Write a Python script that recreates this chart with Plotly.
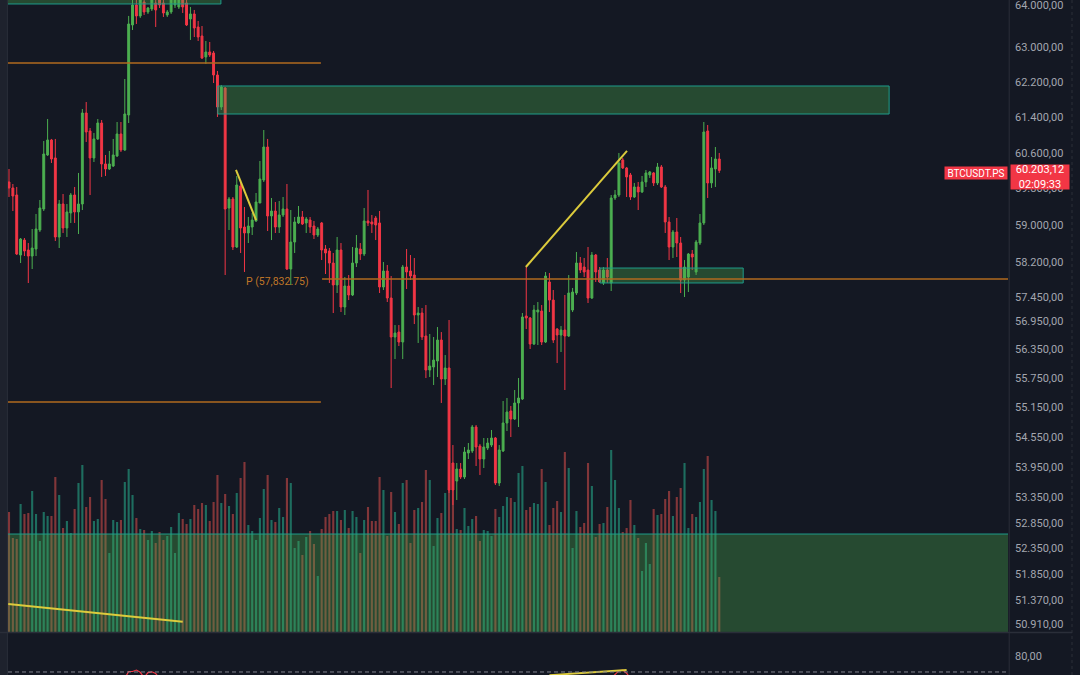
import math
import plotly.graph_objects as go

# ---------------- data (BTCUSDT.PS candles) ----------------
opens = [59947, 59814, 59659, 58350, 58674, 58458, 58328, 58480, 58892, 59351,
         60548, 60885, 60481, 58740, 59461, 58936, 59264, 59659, 59286, 59461,
         61495, 61088, 60481, 60908, 61268, 60347, 60235, 60302, 60526, 61020,
         60660, 61450, 63529, 64000, 63741, 64071, 63835, 63906, 64047, 64166,
         64047, 63764, 63835, 64000, 63953, 64118, 64047, 63670, 63788, 63482,
         63271, 62782, 62898, 62874, 62365, 61632, 62066, 59373, 59571, 58523,
         59858, 58957, 58827, 58957, 59089, 59483, 59991, 60727, 59198, 59307,
         58957, 59220, 59351, 58049, 58631, 59045, 59176, 59045, 59110, 58979,
         58783, 59045, 58480, 58436, 58178, 57707, 58458, 57239, 57685, 57494,
         58178, 58480, 58372, 59089, 59067, 59154, 59045, 57664, 58006, 57430,
         56608, 56712, 56503, 58092, 58006, 57920, 57070, 57112, 56629, 55921,
         55984, 56108, 56545, 55736, 55963, 54032, 53673, 53912, 53753, 54232,
         54272, 54756, 54372, 54112, 54332, 54392, 54534, 53634, 54272, 54837,
         55081, 54918, 55244, 55325, 57049, 57007, 56462, 57133, 57154, 56503,
         57771, 57387, 56775, 56650, 56754, 56629, 57176, 57536, 58178, 58092,
         58027, 57430, 58350, 58027, 57749, 58027, 57749, 59593, 59659, 60436,
         60258, 60102, 59615, 59836, 59726, 59947, 60102, 60147, 59925, 60280,
         59836, 59067, 58523, 58849, 58609, 57813, 57877, 58372, 57985, 58609,
         59045, 61088, 59925, 60235, 60458]
highs = [60235, 59902, 59836, 58718, 58718, 58609, 58914, 59242, 59549, 60862,
         61359, 60908, 60908, 59549, 59681, 59461, 59703, 59836, 60147, 61586,
         61745, 61155, 61043, 61359, 61336, 60548, 60638, 60908, 61291, 61291,
         62273, 63741, 64166, 64189, 64237, 64213, 63953, 64237, 64189, 64237,
         64166, 63882, 64213, 64189, 64213, 64189, 64118, 63953, 63882, 63623,
         63505, 63154, 63131, 62921, 62458, 62135, 62089, 59615, 59615, 60080,
         59991, 59395, 59176, 59264, 59703, 60414, 61110, 60908, 59593, 59505,
         59527, 59615, 59902, 59329, 59176, 59417, 59307, 59176, 59176, 59089,
         58957, 59067, 58566, 58501, 58393, 58740, 58609, 57877, 57920, 58523,
         58783, 58609, 59373, 59770, 59220, 59198, 59307, 58199, 58135, 57899,
         56859, 56859, 58135, 58480, 58350, 58285, 57239, 57218, 57281, 56671,
         56608, 56817, 56712, 56232, 56965, 54392, 54032, 54032, 54352, 54433,
         54796, 54796, 54412, 54534, 54534, 54695, 54554, 54392, 55285, 55346,
         55183, 55510, 55756, 57112, 58092, 57028, 57281, 57345, 57281, 57985,
         57963, 57600, 56796, 56838, 57494, 57920, 57643, 58415, 58307, 58285,
         58523, 58415, 58372, 58092, 58092, 58285, 59659, 59770, 60593, 60481,
         60280, 60147, 59925, 59947, 60080, 60213, 60191, 60169, 60369, 60324,
         59880, 59176, 58892, 59154, 58740, 58242, 58393, 58458, 58674, 59242,
         61291, 61223, 60503, 60727, 60593]
lows = [59615, 59307, 58350, 58178, 58328, 57749, 58049, 58328, 58849, 59307,
        60526, 60369, 58653, 58501, 58827, 58740, 59045, 59045, 58805, 59329,
        60840, 59659, 60391, 60885, 60058, 60080, 60213, 60280, 60503, 60615,
        60638, 61268, 63411, 63552, 63694, 63764, 63788, 63858, 63482, 63929,
        63717, 63717, 63788, 63929, 63906, 63811, 63505, 63178, 63247, 63154,
        62735, 62619, 62782, 62181, 61405, 61564, 57920, 58892, 58458, 58501,
        58393, 57985, 58609, 58783, 59067, 59483, 59947, 58870, 58674, 58827,
        58827, 59176, 58027, 57707, 58393, 59023, 59001, 58827, 58827, 58696,
        58740, 58242, 57942, 57749, 57112, 57536, 57133, 57070, 57387, 57472,
        58092, 58242, 58328, 58979, 58827, 58674, 57536, 57600, 57345, 55551,
        56149, 56420, 56149, 57621, 57813, 56880, 56483, 56545, 55756, 55777,
        55612, 55777, 55244, 55612, 53436, 53200, 53298, 53713, 53713, 54112,
        54232, 53972, 53793, 53932, 54292, 54352, 53594, 53574, 54252, 54675,
        54554, 54898, 54756, 55305, 56775, 56357, 56441, 56441, 56441, 56483,
        57133, 56483, 56066, 56295, 55510, 56608, 57133, 57494, 57963, 57877,
        57324, 57409, 57771, 57749, 57707, 57749, 57579, 59549, 59615, 60235,
        59615, 59549, 59593, 59329, 59703, 59836, 60036, 59858, 59880, 59814,
        58827, 58242, 58285, 58307, 57536, 57451, 57557, 58027, 57920, 58566,
        59001, 59593, 59814, 59836, 60147]
closes = [59814, 59637, 58372, 58696, 58436, 58328, 58501, 58914, 59373, 60570,
          60885, 60458, 58740, 59461, 58936, 59286, 59659, 59286, 59461, 61495,
          61065, 60481, 60908, 61268, 60347, 60235, 60347, 60548, 61020, 60660,
          61473, 63552, 64000, 63741, 64142, 63835, 63929, 64142, 63882, 64000,
          63811, 63835, 64118, 64118, 64142, 63953, 63529, 63788, 63458, 63247,
          62758, 62898, 62828, 62365, 61632, 62089, 59351, 59571, 58523, 59880,
          58936, 58827, 58979, 59110, 59505, 60013, 60727, 59198, 59307, 58957,
          59220, 59351, 58049, 58631, 59067, 59176, 59023, 59132, 58957, 58783,
          58914, 58458, 58393, 58178, 57707, 58458, 57239, 57685, 57494, 58178,
          58501, 58372, 59089, 59045, 59023, 59001, 57664, 58006, 57430, 56608,
          56691, 56503, 58092, 57985, 57899, 57070, 57112, 56608, 55921, 56004,
          56128, 56545, 55736, 55963, 53495, 53495, 53912, 53753, 54252, 54292,
          54756, 54352, 54112, 54352, 54433, 54534, 53634, 54292, 54837, 55060,
          54918, 55244, 55346, 57028, 57007, 56462, 57176, 57176, 56503, 57899,
          57387, 56545, 56650, 56754, 56629, 57536, 57557, 58178, 58027, 57985,
          57430, 58350, 57985, 57771, 58027, 57877, 59593, 59659, 60369, 60258,
          60058, 59615, 59836, 59726, 59947, 60147, 60169, 59925, 60280, 59836,
          59067, 58523, 58849, 58609, 57813, 58092, 58372, 58307, 58631, 59045,
          61065, 59925, 60258, 60458, 60203.12]
volumes = [1200, 940, 930, 1280, 1180, 1190, 1410, 1180, 910, 1200,
           1160, 1160, 1550, 1370, 1040, 1110, 990, 1230, 1490, 1670,
           1250, 1350, 1110, 1130, 1520, 1330, 790, 1120, 1100, 1120,
           1500, 1630, 1370, 1140, 1030, 1020, 920, 1010, 890, 1000,
           920, 960, 1050, 790, 1190, 1130, 1080, 1130, 1270, 1230,
           1290, 1270, 1110, 1300, 1570, 1290, 1380, 1260, 1180, 1390,
           1540, 1700, 1070, 1010, 920, 1140, 1430, 1570, 1120, 1100,
           1240, 1150, 1540, 1490, 840, 910, 770, 950, 1010, 880,
           560, 1030, 1150, 1180, 1210, 1210, 1120, 1220, 1040, 1210,
           1150, 790, 1120, 1250, 1110, 1110, 1550, 1420, 960, 1400,
           1200, 1080, 1490, 1520, 890, 1220, 1240, 1300, 1620, 1520,
           860, 1140, 1190, 1390, 1740, 1620, 1030, 1020, 1240, 1060,
           1130, 1160, 910, 1020, 1010, 960, 1230, 1150, 1260, 1350,
           1340, 1300, 1590, 1660, 1220, 1250, 1290, 1280, 1630, 1500,
           1070, 1240, 1310, 1200, 1800, 1640, 840, 1210, 1050, 1090,
           1690, 1460, 950, 1080, 1090, 1250, 1820, 1520, 1240, 1000,
           1040, 1320, 1070, 940, 610, 890, 680, 1230, 1170, 1180,
           1330, 1410, 1160, 1350, 1440, 1690, 1040, 1180, 1150, 1300,
           1630, 1760, 1320, 1210, 550]
bars = list(range(len(closes)))

# RSI pane (only the part that reaches into the visible strip)
rsi_bars = [30, 31, 32, 33, 34, 35, 36, 37, 38, 39, None, 156, 157, 158, 159, 160, 161]
rsi_vals = [66.0, 70.3, 70.3, 71.2, 69.8, 66.5, 69.6, 70.1, 69.0, 66.0, None, 66.0, 68.5, 70.8, 71.2, 69.2, 66.0]
rsi_band = 70
rsi_trend_bars = [140, 160]
rsi_trend_vals = [68.0, 71.25]

# axis ticks
price_ticks = [64000, 63000, 62200, 61400, 60600, 59800, 59000, 58200, 57450, 56950,
               56350, 55750, 55150, 54550, 53950, 53350, 52850, 52350, 51850, 51370, 50910]
rsi_ticks = [80]

# drawings (bar index, price)
zones = [  # [bar_from, bar_to, price_low, price_high]
    [-3, 54.9, 64024, 64600],
    [54.1, 228.0, 61472, 62112],
    [153.1, 190.2, 57750, 58070],
    [-3, 300, 49000, 52632],
]
levels = [  # [bar_from, bar_to, price]
    [-3, 80.8, 62642],
    [-3, 80.8, 55264],
    [81.1, 300, 57832.75],
]
trend_lines = [  # [bar_a, price_a, bar_b, price_b]
    [58.8, 60213, 64.0, 59110],
    [133.9, 58092, 160.1, 60638],
    [-0.2, 51288, 45.0, 50953],
]
pivot_price = 57832.75
pivot_bar = 78.3
last_price = 60203.12
symbol = "BTCUSDT.PS"
countdown = "02:09:33"

# ---------------- style ----------------
BG = "#141823"
UP = "#4caf50"
DOWN = "#f23645"
VOL_UP = "rgba(38,170,140,0.58)"
VOL_DOWN = "rgba(239,83,80,0.5)"
ZONE_FILL = "rgba(76,175,80,0.33)"
ZONE_LINE = "#1e9c8a"
ORANGE = "#b06a1f"
YELLOW = "#dccb3c"
AXIS_TXT = "#a3a6af"
SEP = "#2a2e39"
FONT = "Roboto"


def eu(v):
    s = f"{v:,.2f}"
    return s.replace(",", "_").replace(".", ",").replace("_", ".")


vol_colors = [VOL_UP if c >= o else VOL_DOWN for o, c in zip(opens, closes)]

fig = go.Figure()
fig.add_trace(go.Bar(x=bars, y=volumes, marker_color=vol_colors, marker_line_width=0,
                     width=0.55, yaxis="y", hoverinfo="skip"))
fig.add_trace(go.Candlestick(
    x=bars, open=opens, high=highs, low=lows, close=closes, yaxis="y2",
    increasing=dict(line=dict(color=UP, width=1), fillcolor=UP),
    decreasing=dict(line=dict(color=DOWN, width=1), fillcolor=DOWN),
    whiskerwidth=0, hoverinfo="skip"))

for x0, x1, p0, p1 in zones:
    fig.add_trace(go.Scatter(x=[x0, x1, x1, x0, x0], y=[p0, p0, p1, p1, p0], yaxis="y2",
                             mode="lines", fill="toself", fillcolor=ZONE_FILL,
                             line=dict(color=ZONE_LINE, width=1), hoverinfo="skip"))
for x0, x1, p in levels:
    fig.add_trace(go.Scatter(x=[x0, x1], y=[p, p], yaxis="y2", mode="lines",
                             line=dict(color=ORANGE, width=1.5), hoverinfo="skip"))
for xa, pa, xb, pb in trend_lines:
    fig.add_trace(go.Scatter(x=[xa, xb], y=[pa, pb], yaxis="y2", mode="lines",
                             line=dict(color=YELLOW, width=2), hoverinfo="skip"))

fig.add_trace(go.Scatter(x=rsi_bars, y=rsi_vals, yaxis="y3", mode="lines",
                         line=dict(color=DOWN, width=1.2), connectgaps=False, hoverinfo="skip"))
fig.add_trace(go.Scatter(x=rsi_trend_bars, y=rsi_trend_vals, yaxis="y3", mode="lines",
                         line=dict(color=YELLOW, width=2), hoverinfo="skip"))

main_bottom = 43 / 675
rsi_top = 42 / 675

shapes = [
    # left toolbar edge
    dict(type="rect", xref="paper", yref="paper", x0=-0.008, x1=-0.0006, y0=0, y1=1,
         fillcolor="#1e222d", line=dict(width=0), layer="above"),
    dict(type="line", xref="paper", yref="paper", x0=-0.0006, x1=-0.0006, y0=0, y1=1,
         line=dict(color=SEP, width=1), layer="above"),
    # price scale separators
    dict(type="line", xref="paper", yref="paper", x0=1.0012, x1=1.0012, y0=0, y1=1,
         line=dict(color=SEP, width=1), layer="above"),
    dict(type="line", xref="paper", yref="paper", x0=1.064, x1=1.064, y0=0, y1=1,
         line=dict(color=SEP, width=1, dash="3px,3px"), layer="above"),
    # pane separator
    dict(type="line", xref="paper", yref="paper", x0=-0.008, x1=1.064,
         y0=(main_bottom + rsi_top) / 2, y1=(main_bottom + rsi_top) / 2,
         line=dict(color=SEP, width=1.5), layer="above"),
    # RSI band
    dict(type="line", xref="paper", yref="y3", x0=0, x1=1, y0=rsi_band, y1=rsi_band,
         line=dict(color="#80838e", width=1, dash="4px,3px"), layer="above"),
]

annotations = [
    dict(xref="x", yref="y2", x=pivot_bar, y=math.log10(pivot_price), xanchor="right",
         yanchor="middle", yshift=-2, showarrow=False, text=f"P ({pivot_price:,.2f})",
         font=dict(family=FONT, size=10.5, color="rgba(214,130,40,0.9)")),
    dict(xref="paper", yref="y2", x=1.0, y=math.log10(last_price), xanchor="right",
         yanchor="middle", yshift=-3, showarrow=False, text=symbol, width=62, height=12,
         bgcolor=DOWN, borderpad=0, font=dict(family=FONT, size=10, color="#ffffff")),
    dict(xref="paper", yref="y2", x=1.002, y=math.log10(last_price), xanchor="left",
         yanchor="middle", yshift=-7, showarrow=False,
         text=f"{eu(last_price)}<br>{countdown}", width=58, height=24,
         bgcolor=DOWN, borderpad=0, font=dict(family=FONT, size=11, color="#ffffff")),
]

fig.update_layout(
    width=1080, height=675,
    margin=dict(l=8, r=72, t=0, b=0),
    paper_bgcolor=BG, plot_bgcolor=BG,
    showlegend=False,
    hovermode=False,
    xaxis=dict(range=[-0.26, 258.8], showgrid=False, zeroline=False, showline=False,
               showticklabels=False, ticks="", rangeslider=dict(visible=False), fixedrange=True),
    yaxis=dict(domain=[main_bottom, 1], range=[0, 6320], visible=False, fixedrange=True),
    yaxis2=dict(overlaying="y", side="right", anchor="x", type="log",
                range=[math.log10(50760), math.log10(64118)],
                tickvals=price_ticks, ticktext=[eu(v) for v in price_ticks],
                tickfont=dict(family=FONT, size=11, color=AXIS_TXT),
                showgrid=False, zeroline=False, showline=False, ticks="",
                ticklabelstandoff=6, ticklabeloverflow="allow", fixedrange=True),
    yaxis3=dict(domain=[0, rsi_top], range=[68.1, 94.4], side="right", anchor="x",
                tickvals=rsi_ticks, ticktext=[eu(v) for v in rsi_ticks],
                tickfont=dict(family=FONT, size=11, color=AXIS_TXT),
                showgrid=False, zeroline=False, showline=False, ticks="",
                ticklabelstandoff=6, fixedrange=True),
    shapes=shapes,
    annotations=annotations,
)

fig.write_html("out.html", config={"displayModeBar": False})
